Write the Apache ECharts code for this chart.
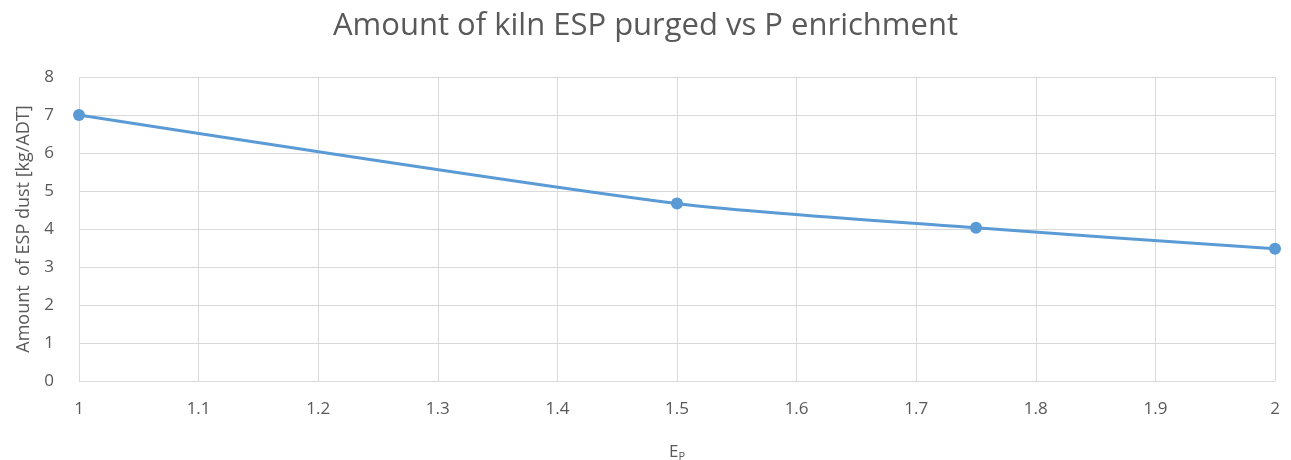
<!DOCTYPE html>
<html>
<head>
<meta charset="utf-8">
<script src="https://cdn.jsdelivr.net/npm/echarts@6/dist/echarts.min.js"></script>
<style>
  html, body { margin: 0; padding: 0; background: #fff; }
  #chart { width: 1291px; height: 460px; }
</style>
</head>
<body>
<div id="chart"></div>
<script>
/* ---- data ---- */
const enrichment = [1, 1.5, 1.75, 2];
const dustPurged = [7, 4.67, 4.03, 3.48];

const TXT = "#595959";
const GRID = "#d9d9d9";
const FONT = "'Open Sans', 'Noto Sans', sans-serif";

const chart = echarts.init(document.getElementById("chart"), null, { renderer: "canvas" });
chart.setOption({
  animation: false,
  backgroundColor: "#fff",
  textStyle: { fontFamily: FONT },
  title: {
    text: "Amount of kiln ESP purged vs P enrichment",
    left: "center", top: 6,
    textStyle: { fontFamily: FONT, fontSize: 31, fontWeight: "normal", color: TXT },
  },
  grid: { left: 79, right: 16, top: 77, bottom: 79, containLabel: false, outerBoundsMode: "none" },
  xAxis: {
    type: "value", min: 1, max: 2, interval: 0.1,
    name: "{e|E}{p|P}", nameLocation: "middle", nameGap: 62,
    nameTextStyle: {
      rich: {
        e: { fontFamily: FONT, fontSize: 17, color: TXT },
        p: { fontFamily: FONT, fontSize: 11, color: TXT, verticalAlign: "bottom", padding: [8, 0, 0, 0] },
      },
    },
    axisLine: { lineStyle: { color: GRID, width: 1 } },
    axisTick: { show: false },
    axisLabel: { color: TXT, fontSize: 17, margin: 20, formatter: (v) => String(+v.toFixed(2)) },
    splitLine: { lineStyle: { color: GRID, width: 1 } },
  },
  yAxis: {
    type: "value", min: 0, max: 8, interval: 1,
    name: "Amount  of ESP dust [kg/ADT]", nameLocation: "middle", nameGap: 46,
    nameTextStyle: { fontFamily: FONT, fontSize: 18, color: TXT },
    axisLine: { show: false },
    axisTick: { show: false },
    axisLabel: { color: TXT, fontSize: 17, margin: 25 },
    splitLine: { lineStyle: { color: GRID, width: 1 } },
  },
  series: [{
    type: "line",
    data: enrichment.map((x, i) => [x, dustPurged[i]]),
    smooth: 0.25,
    symbol: "circle", symbolSize: 12,
    lineStyle: { color: "#5b9bd5", width: 3 },
    itemStyle: { color: "#5b9bd5" },
  }],
});
</script>
</body>
</html>
